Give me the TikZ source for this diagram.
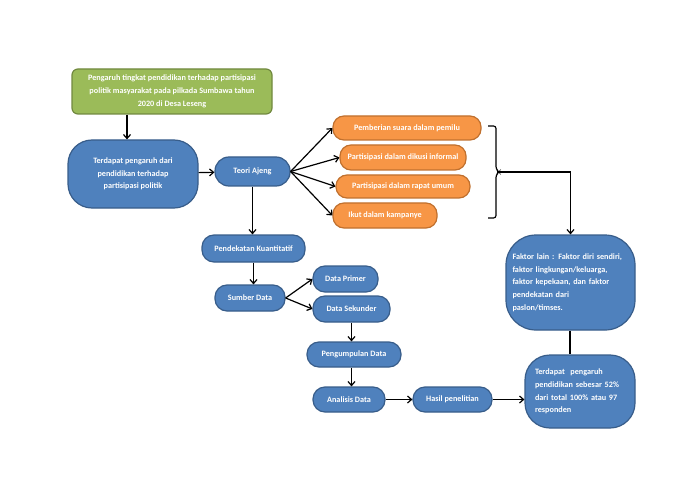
\documentclass[tikz,border=0pt]{standalone}
\usepackage{fontspec}
\setmainfont{Carlito}
\usepackage{tikz}
\usetikzlibrary{calc}
\usetikzlibrary{positioning}
\usetikzlibrary{arrows.meta}
\definecolor{bluefill}{HTML}{4F81BD}
\definecolor{blueline}{HTML}{385D8A}
\definecolor{orangefill}{HTML}{F79646}
\definecolor{orangeline}{HTML}{C0702E}
\definecolor{greenfill}{HTML}{9BBB59}
\definecolor{greenline}{HTML}{71893F}
\tikzstyle{boxtext} = [text=white, font=\bfseries\fontsize{8.2}{12.7}\selectfont, inner sep=2pt, align=center]
\tikzstyle{bluenode} = [boxtext, draw=blueline, fill=bluefill, line width=1.2pt, rounded corners=12pt]
\tikzstyle{orangenode} = [boxtext, draw=orangeline, fill=orangefill, line width=1.2pt, rounded corners=11pt]
\tikzstyle{greennode} = [boxtext, draw=greenline, fill=greenfill, line width=1.2pt, rounded corners=6pt]
\tikzstyle{arr} = [line width=1.2pt, -{Straight Barb[length=4pt,width=7pt]}]
\tikzstyle{plain} = [line width=1.2pt]

\begin{document}
\begin{tikzpicture}[x=1pt, y=-1pt]
\useasboundingbox (0,0) rectangle (700,494);
\node[greennode, minimum width=200pt, minimum height=45pt] (judul) at (172,91.5)
{Pengaruh tingkat pendidikan terhadap partisipasi\\politik masyarakat pada pilkada Sumbawa tahun\\2020 di Desa Leseng};
\node[bluenode, rounded corners=24pt, minimum width=130pt, minimum height=68pt] (pengaruh) at (133,174)
{Terdapat pengaruh dari\\pendidikan terhadap\\partisipasi politik};
\node[bluenode, rounded corners=14pt, minimum width=75pt, minimum height=29pt] (teori) at (252.5,171.5) {Teori Ajeng};

% indikator partisipasi
\node[orangenode, minimum width=148pt, minimum height=24pt] (suara) at (407,128) {Pemberian suara dalam pemilu};
\node[orangenode, minimum width=126pt, minimum height=25pt] (diskusi) at (403,157.5) {Partisipasi dalam dikusi informal};
\node[orangenode, minimum width=134pt, minimum height=23pt] (rapat) at (403,186.5) {Partisipasi dalam rapat umum};
\node[orangenode, minimum width=104pt, minimum height=25pt] (kampanye) at (385,215.5) {Ikut dalam kampanye};

% metode
\node[bluenode, minimum width=103pt, minimum height=27pt] (pendekatan) at ($(teori)+(1,77)$) {Pendekatan Kuantitatif};
\node[bluenode, minimum width=70pt, minimum height=26pt] (sumber) at ($(pendekatan)+(-3.5,49.5)$) {Sumber Data};
\node[bluenode, minimum width=65pt, minimum height=26pt] (primer) at ($(sumber)+(95.5,-19)$) {Data Primer};
\node[bluenode, minimum width=77pt, minimum height=26pt] (sekunder) at ($(sumber)+(101.5,11)$) {Data Sekunder};
\node[bluenode, minimum width=94pt, minimum height=25pt] (kumpul) at ($(sekunder)+(2.5,45.5)$) {Pengumpulan Data};
\node[bluenode, minimum width=72pt, minimum height=25pt] (analisis) at ($(kumpul)+(-5,45)$) {Analisis Data};
\node[bluenode, minimum width=79pt, minimum height=25pt] (hasil) at ($(analisis)+(103.5,0)$) {Hasil penelitian};

% kesimpulan
\node[bluenode, rounded corners=30pt, minimum width=129pt, minimum height=95pt, text width=116pt, align=left] (faktor) at (570.5,282.5)
{Faktor lain : Faktor diri sendiri,\\faktor lingkungan/keluarga,\\faktor kepekaan, dan faktor\\pendekatan dari\\paslon/timses.};
\node[bluenode, rounded corners=25pt, minimum width=110pt, minimum height=73pt, text width=90pt, align=left] (hasilakhir) at (580,391.5)
{Terdapat\ \ pengaruh\\pendidikan sebesar 52\%\\dari total 100\% atau 97\\responden};

\draw[arr] (judul.south -| 127,0) -- (pengaruh.north -| 127,0);
\draw[arr] (pengaruh) -- (teori);
\foreach \o in {suara, diskusi, rapat, kampanye}
  \draw[arr] (teori.east) -- (\o.west);
\draw[arr] (teori) -- (teori |- pendekatan.north);
\draw[arr] (pendekatan) -- (pendekatan |- sumber.north);
\draw[arr] (sumber.east) -- (primer.west);
\draw[arr] (sumber.east) -- (sekunder.west);
\draw[arr] (sekunder) -- (sekunder |- kumpul.north);
\draw[arr] (kumpul.south -| sekunder) -- (sekunder |- analisis.north);
\draw[arr] (analisis) -- (hasil);
\draw[arr] (hasil) -- (hasil -| hasilakhir.west);

% kurung
\coordinate (kurung) at (499,172);
\draw[plain, rounded corners=2.5pt] (488,126) -- (496,126) -- (496,169) -- (kurung) -- (496,175) -- (496,218) -- (488,218);
\draw[arr] (kurung) -| (faktor.north);
\draw[plain] (faktor.south -| 570,0) -- (hasilakhir.north -| 570,0);
\end{tikzpicture}
\end{document}
